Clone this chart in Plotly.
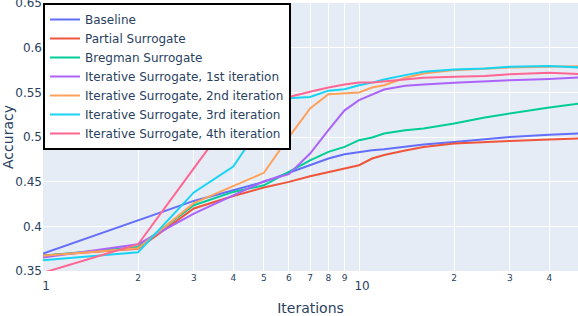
import math
import plotly.graph_objects as go

iterations = [1, 2, 3, 4, 5, 6, 7, 8, 9, 10, 11, 12, 14, 16, 20, 25, 30, 40, 50]

baseline = [0.3695, 0.4068, 0.4285, 0.4405, 0.4498, 0.460, 0.4685, 0.476, 0.4808, 0.4834,
            0.4853, 0.4864, 0.489, 0.4917, 0.4946, 0.4973, 0.5002, 0.5025, 0.504]
partial = [0.3673, 0.375, 0.420, 0.434, 0.4435, 0.4498, 0.4562, 0.461, 0.4648, 0.4685,
           0.476, 0.480, 0.485, 0.489, 0.4928, 0.4946, 0.4957, 0.4973, 0.4984]
bregman = [0.367, 0.377, 0.4237, 0.4386, 0.446, 0.461, 0.474, 0.4834, 0.489, 0.4965,
           0.4995, 0.504, 0.5077, 0.5096, 0.5152, 0.522, 0.5265, 0.5332, 0.5376]
iter1 = [0.365, 0.380, 0.4143, 0.435, 0.4505, 0.4584, 0.4816, 0.5077, 0.530, 0.5414,
         0.548, 0.5533, 0.5574, 0.559, 0.5608, 0.5627, 0.5638, 0.5652, 0.5668]
iter2 = [0.367, 0.3755, 0.426, 0.445, 0.460, 0.500, 0.532, 0.548, 0.549, 0.550,
         0.5556, 0.558, 0.5664, 0.5713, 0.575, 0.5769, 0.578, 0.5787, 0.5795]
iter3 = [0.362, 0.371, 0.438, 0.467, 0.518, 0.5435, 0.545, 0.552, 0.5537, 0.558,
         0.561, 0.5646, 0.5694, 0.5731, 0.5758, 0.5769, 0.5787, 0.5795, 0.578]
iter4 = [0.348, 0.380, 0.465, 0.525, 0.537, 0.545, 0.5507, 0.5556, 0.559, 0.5612,
         0.5612, 0.5625, 0.565, 0.5664, 0.5675, 0.5683, 0.5705, 0.572, 0.5705]

series = [
    ("Baseline", baseline),
    ("Partial Surrogate", partial),
    ("Bregman Surrogate", bregman),
    ("Iterative Surrogate, 1st iteration", iter1),
    ("Iterative Surrogate, 2nd iteration", iter2),
    ("Iterative Surrogate, 3rd iteration", iter3),
    ("Iterative Surrogate, 4th iteration", iter4),
]

fig = go.Figure()
for name, vals in series:
    fig.add_trace(go.Scatter(x=iterations, y=vals, mode="lines", name=name))

fig.update_layout(
    template="plotly",
    width=578,
    height=316,
    margin=dict(l=43, r=0, t=3, b=45, autoexpand=False),
    font=dict(family="DejaVu Sans", size=12),
    legend=dict(x=0, y=1, xanchor="left", yanchor="top",
                bgcolor="white", bordercolor="black", borderwidth=2),
    xaxis=dict(type="log", title=dict(text="Iterations"), dtick="D1",
               range=[0, math.log10(49.3)], automargin=False,
               ticklabeloverflow="allow"),
    yaxis=dict(title=dict(text="Accuracy"), range=[0.35, 0.6502], dtick=0.05,
               automargin=False, ticklabeloverflow="allow"),
)

fig.write_html(
    "out.html",
    config={"displayModeBar": False},
    post_script="document.body.style.margin='0';document.body.style.overflow='hidden';",
)
